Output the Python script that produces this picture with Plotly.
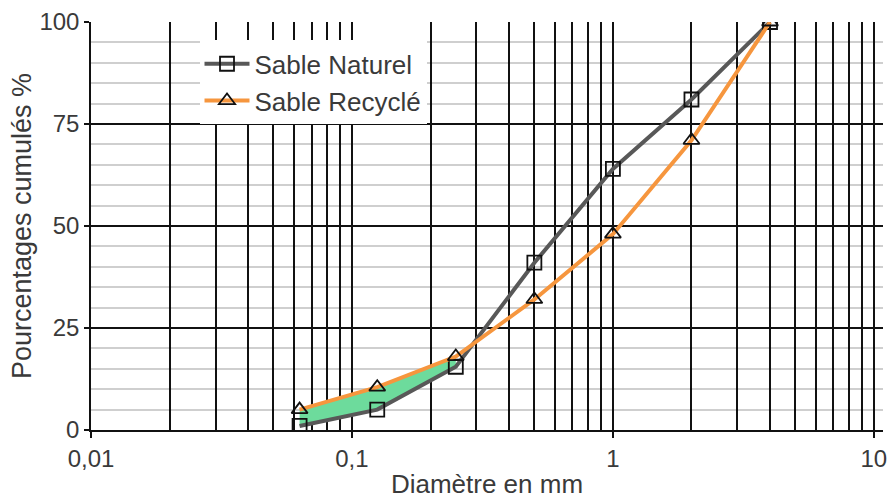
import plotly.graph_objects as go

# Sieve sizes (mm) and cumulative passing percentages
diametres = [0.063, 0.125, 0.25, 0.5, 1, 2, 4]
sable_naturel = [1, 5, 15.5, 41, 64, 81, 100]
sable_recycle = [5, 10.5, 18, 32, 48, 71, 100]

# Band shaded between the two curves on the fine fraction
n_band = 3

x_ticks = [0.01, 0.1, 1, 10]
x_ticklabels = ["0,01", "0,1", "1", "10"]
y_ticks = [0, 25, 50, 75, 100]
x_minor = [m * d for d in (0.01, 0.1, 1) for m in range(2, 10)]

FONT = "Liberation Sans, Arial, sans-serif"
TXT = "#3a3a3a"

fig = go.Figure()

# green band: recycled curve first, natural curve filled up to it
fig.add_trace(go.Scatter(
    x=diametres[:n_band], y=sable_recycle[:n_band], mode="lines",
    line=dict(width=0, color="#6ddb9c"), showlegend=False, hoverinfo="skip"))
fig.add_trace(go.Scatter(
    x=diametres[:n_band], y=sable_naturel[:n_band], mode="lines",
    line=dict(width=0, color="#6ddb9c"), fill="tonexty", fillcolor="#6ddb9c",
    showlegend=False, hoverinfo="skip"))

fig.add_trace(go.Scatter(
    x=diametres, y=sable_naturel, mode="lines+markers", name="Sable Naturel",
    line=dict(color="#585858", width=4),
    marker=dict(symbol="square-open", size=14, color="#111111",
                line=dict(width=1.8, color="#111111"))))
fig.add_trace(go.Scatter(
    x=diametres, y=sable_recycle, mode="lines+markers", name="Sable Recyclé",
    line=dict(color="#f6963e", width=4),
    marker=dict(symbol="triangle-up", size=14, color="rgba(255,255,255,0)",
                line=dict(width=1.8, color="#111111"))))

fig.update_layout(
    width=891, height=502,
    margin=dict(l=91, r=8, t=22, b=72),
    paper_bgcolor="white", plot_bgcolor="white",
    font=dict(family=FONT, size=24, color=TXT),
    legend=dict(x=0.137, y=0.955, xanchor="left", yanchor="top",
                bgcolor="white", borderwidth=0, traceorder="normal",
                font=dict(family=FONT, size=26, color=TXT),
                tracegroupgap=0, itemwidth=45),
    showlegend=True,
)

fig.update_xaxes(
    type="log", range=[-2, 1.035],
    tickmode="array", tickvals=x_ticks, ticktext=x_ticklabels,
    ticks="outside", ticklen=6, tickcolor="#111111", tickwidth=1.5,
    showgrid=True, gridcolor="#111111", gridwidth=1.5,
    showline=True, linecolor="#111111", linewidth=1.5,
    minor=dict(tickmode="array", tickvals=x_minor, showgrid=True,
               gridcolor="#111111", gridwidth=1.5, griddash="solid", ticks=""),
    title=dict(text="Diamètre en mm", standoff=4,
               font=dict(family=FONT, size=26, color=TXT)),
    tickfont=dict(family=FONT, size=24, color=TXT),
    automargin=False,
)

# translucent minor lines so the vertical grid stays visible where they cross
fig.update_yaxes(
    range=[0, 100],
    tickmode="array", tickvals=y_ticks,
    ticks="outside", ticklen=5, tickcolor="#111111", tickwidth=1.5,
    showgrid=True, gridcolor="#111111", gridwidth=1.5,
    zeroline=False,
    showline=True, linecolor="#111111", linewidth=1.5,
    minor=dict(dtick=5, showgrid=True, gridcolor="rgba(0,0,0,0.19)", gridwidth=2,
               griddash="solid", ticks=""),
    title=dict(text="Pourcentages cumulés %", standoff=0,
               font=dict(family=FONT, size=27, color=TXT)),
    tickfont=dict(family=FONT, size=24, color=TXT),
)

fig.write_html("out.html")
